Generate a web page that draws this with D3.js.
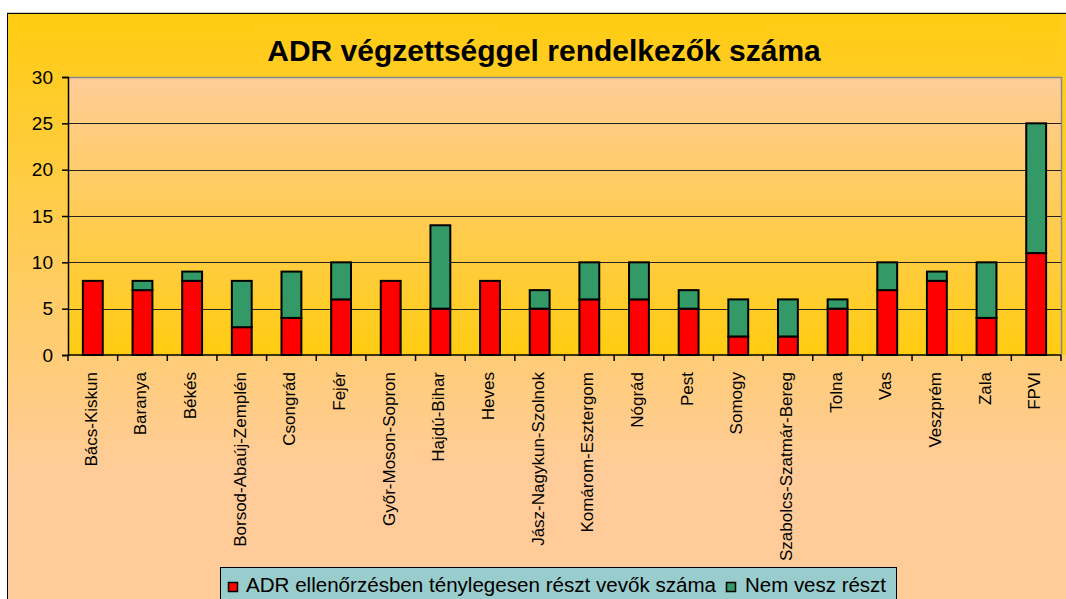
<!DOCTYPE html>
<html>
<head>
<meta charset="utf-8">
<script src="https://cdn.jsdelivr.net/npm/d3@7/dist/d3.min.js"></script>
<style>
html,body{margin:0;padding:0;background:#fff;overflow:hidden;}
svg{display:block;font-family:"Liberation Sans",Arial,sans-serif;}
</style>
</head>
<body>
<svg id="chart" width="1066" height="599"></svg>
<script>
const categories = ["Bács-Kiskun","Baranya","Békés","Borsod-Abaúj-Zemplén","Csongrád","Fejér","Győr-Moson-Sopron","Hajdú-Bihar","Heves","Jász-Nagykun-Szolnok","Komárom-Esztergom","Nógrád","Pest","Somogy","Szabolcs-Szatmár-Bereg","Tolna","Vas","Veszprém","Zala","FPVI"];
const participating = [8,7,8,3,4,6,8,5,8,5,6,6,5,2,2,5,7,8,4,11];
const notParticipating = [0,1,1,5,5,4,0,9,0,2,4,4,2,4,4,1,3,1,6,14];
const yTicks = [0,5,10,15,20,25,30];
const seriesNames = ["ADR ellenőrzésben ténylegesen részt vevők száma","Nem vesz részt"];
const seriesColors = ["#FF0000","#339966"];
const title = "ADR végzettséggel rendelkezők száma";

const svg = d3.select("#chart");
const defs = svg.append("defs");
const outerGrad = defs.append("linearGradient").attr("id","outerGrad")
  .attr("gradientUnits","userSpaceOnUse").attr("x1",0).attr("y1",13).attr("x2",0).attr("y2",470);
outerGrad.append("stop").attr("offset","0").attr("stop-color","#FFCC11");
outerGrad.append("stop").attr("offset","1").attr("stop-color","#FFCC99");
const plotGrad = defs.append("linearGradient").attr("id","plotGrad")
  .attr("gradientUnits","userSpaceOnUse").attr("x1",0).attr("y1",77).attr("x2",0).attr("y2",355);
plotGrad.append("stop").attr("offset","0").attr("stop-color","#FFCC99");
plotGrad.append("stop").attr("offset","1").attr("stop-color","#FFCC11");

// outer chart area
svg.append("rect").attr("x",7.5).attr("y",13.5).attr("width",1070).attr("height",600)
  .attr("fill","url(#outerGrad)").attr("stroke","#000").attr("stroke-width",1);
svg.append("line").attr("x1",7).attr("x2",1066).attr("y1",12.5).attr("y2",12.5).attr("stroke","#ccc");

const L = 68, R = 1061, T = 77, B = 355;
const x = d3.scaleBand().domain(categories).range([L,R]).paddingInner(0.6).paddingOuter(0.3);
const y = d3.scaleLinear().domain([0,30]).range([B,T]);

// right strip
svg.append("rect").attr("x",R).attr("y",14).attr("width",6).attr("height",B-14).attr("fill","#FFCC22");

// plot area
svg.append("rect").attr("x",L).attr("y",T).attr("width",R-L).attr("height",B-T)
  .attr("fill","url(#plotGrad)");
svg.append("path").attr("d",`M${L},${T+0.5}H${R+0.5}V${B}`).attr("fill","none").attr("stroke","#888").attr("stroke-width",1.5);

// gridlines
svg.append("g").selectAll("line").data(yTicks.filter(d=>d>0 && d<30)).join("line")
  .attr("x1",L).attr("x2",R).attr("y1",d=>Math.round(y(d))+0.5).attr("y2",d=>Math.round(y(d))+0.5)
  .attr("stroke","#222").attr("stroke-width",1);

// y axis
const yAxis = d3.axisLeft(y).tickValues(yTicks).tickSize(6).tickPadding(9).tickFormat(d3.format("d"));
const gy = svg.append("g").attr("transform",`translate(${L},0)`).call(yAxis);
gy.select(".domain").attr("stroke","#000").attr("stroke-width",1.5);
gy.selectAll(".tick line").attr("stroke","#000").attr("stroke-width",1.5);
gy.selectAll(".tick text").attr("font-size",19).attr("fill","#000").attr("font-family","Liberation Sans, Arial, sans-serif");

// bars
const step = x.step();
const barG = svg.append("g");
categories.forEach((c,i)=>{
  const v1 = participating[i], v2 = notParticipating[i];
  barG.append("rect").attr("x",x(c)).attr("width",x.bandwidth())
    .attr("y",y(v1)).attr("height",y(0)-y(v1))
    .attr("fill",seriesColors[0]).attr("stroke","#000").attr("stroke-width",2);
  if(v2>0){
    barG.append("rect").attr("x",x(c)).attr("width",x.bandwidth())
      .attr("y",y(v1+v2)).attr("height",y(v1)-y(v1+v2))
      .attr("fill",seriesColors[1]).attr("stroke","#000").attr("stroke-width",2);
  }
});

// x axis
svg.append("line").attr("x1",L).attr("x2",R).attr("y1",B).attr("y2",B).attr("stroke","#000").attr("stroke-width",1.5);
const boundaries = d3.range(categories.length+1).map(i=>L+i*step);
svg.append("g").selectAll("line").data(boundaries).join("line")
  .attr("x1",d=>d).attr("x2",d=>d).attr("y1",B).attr("y2",B+6).attr("stroke","#000").attr("stroke-width",1.5);
svg.append("g").selectAll("text").data(categories).join("text")
  .attr("transform",d=>`translate(${x(d)+x.bandwidth()/2+4},372) rotate(-90)`)
  .attr("text-anchor","end").attr("font-size",17).attr("fill","#000").text(d=>d);

// title
svg.append("text").attr("x",544).attr("y",61).attr("text-anchor","middle")
  .attr("font-size",30).attr("font-weight","bold").attr("fill","#000").text(title);

// legend
svg.append("rect").attr("x",220.5).attr("y",567.5).attr("width",676).attr("height",50)
  .attr("fill","#99CCCC").attr("stroke","#000").attr("stroke-width",1);
const legendX = [228,726];
const legendTextX = [246,745];
const legendTextLen = [470,141];
seriesNames.forEach((n,i)=>{
  svg.append("rect").attr("x",legendX[i]+0.5).attr("y",582.5).attr("width",9).attr("height",9)
    .attr("fill",seriesColors[i]).attr("stroke","#000").attr("stroke-width",1.5);
  svg.append("text").attr("x",legendTextX[i]).attr("y",592).attr("font-size",19.5).attr("fill","#000")
    .attr("textLength",legendTextLen[i]).attr("lengthAdjust","spacingAndGlyphs").text(n);
});
</script>
</body>
</html>
